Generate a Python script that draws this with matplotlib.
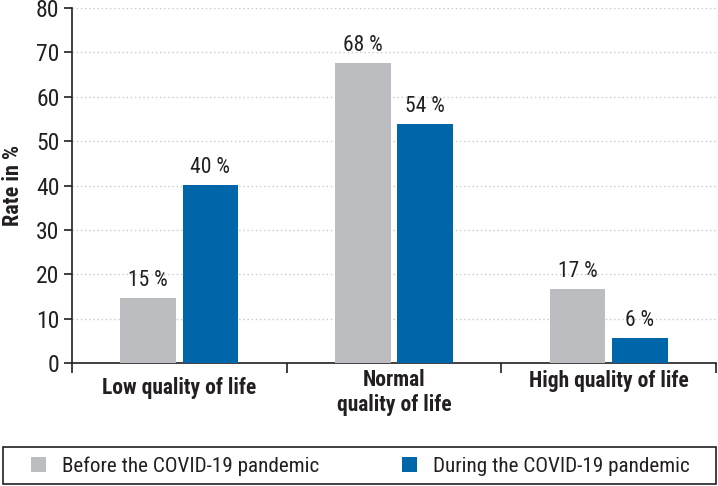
import numpy as np
import matplotlib.pyplot as plt
from matplotlib.patches import Patch, Rectangle

plt.rcParams['font.family'] = ['Roboto Condensed', 'Archivo Narrow', 'Liberation Sans', 'DejaVu Sans']

categories = ["Low quality of life", "Normal\nquality of life", "High quality of life"]
before = [14.7, 67.7, 16.7]
during = [40.1, 53.8, 5.7]
before_labels = ["15 %", "68 %", "17 %"]
during_labels = ["40 %", "54 %", "6 %"]
series_names = ["Before the COVID-19 pandemic", "During the COVID-19 pandemic"]

gray = "#bcbdc0"
blue = "#0066aa"
ink = "#231f20"

W, H = 718, 486
fig = plt.figure(figsize=(W / 100, H / 100), dpi=100)
ax = fig.add_axes([0.1003, 0.253, 0.8967, 0.7305])

x = np.arange(len(categories))
w = 0.26
off = 0.145
b1 = ax.bar(x - off, before, w, color=gray, zorder=3)
b2 = ax.bar(x + off, during, w, color=blue, zorder=3)

for bars, labels in ((b1, before_labels), (b2, during_labels)):
    for rect, lab in zip(bars, labels):
        ax.text(rect.get_x() + rect.get_width() / 2, rect.get_height() + 1.6, lab,
                ha='center', va='bottom', fontsize=15.5, color=ink)

ax.set_xlim(-0.5, len(categories) - 0.5)
ax.set_ylim(0, 80)
ax.set_yticks(np.arange(0, 81, 10))
ax.tick_params(axis='y', labelsize=17, length=6, width=1.2, colors=ink, pad=3)
ax.set_xticks(x)
ax.set_xticklabels([])
ax.tick_params(axis='x', length=0)
ax.set_xticks(np.arange(-0.5, len(categories), 1), minor=True)
ax.tick_params(axis='x', which='minor', length=7, width=1.2, color=ink)

# category labels below the axis
cat_y = [-5.6, -6.6, -4.1]
for xi, name, yy in zip(x, categories, cat_y):
    ax.text(xi, yy, name, ha='center', va='center', fontsize=15.5, fontweight='bold',
            color=ink, linespacing=1.2, clip_on=False)

ax.grid(axis='y', linestyle=(0, (1, 2)), color='#c8c8c8', linewidth=1, zorder=0)
for s in ['top', 'right']:
    ax.spines[s].set_visible(False)
for s in ['left', 'bottom']:
    ax.spines[s].set_linewidth(1.2)
    ax.spines[s].set_color(ink)

ax.set_ylabel("Rate in %", fontsize=16, fontweight='bold', color=ink, labelpad=9)

# legend box spanning the figure width
fig.patches.append(Rectangle((3 / W, 1 - 484 / H), 713 / W, 37 / H, transform=fig.transFigure,
                             fill=False, edgecolor=ink, linewidth=1.2))
handles = [Patch(facecolor=gray, edgecolor='none'), Patch(facecolor=blue, edgecolor='none')]
leg = fig.legend(handles, series_names, loc='center left', ncol=2,
                 bbox_to_anchor=(31 / W, 1 - 466 / H), frameon=False,
                 fontsize=15.2, handlelength=0.72, handleheight=0.72,
                 borderaxespad=0, borderpad=0, handletextpad=0.77, columnspacing=3.9,
                 labelcolor=ink)

fig.savefig("out.png", dpi=100)
